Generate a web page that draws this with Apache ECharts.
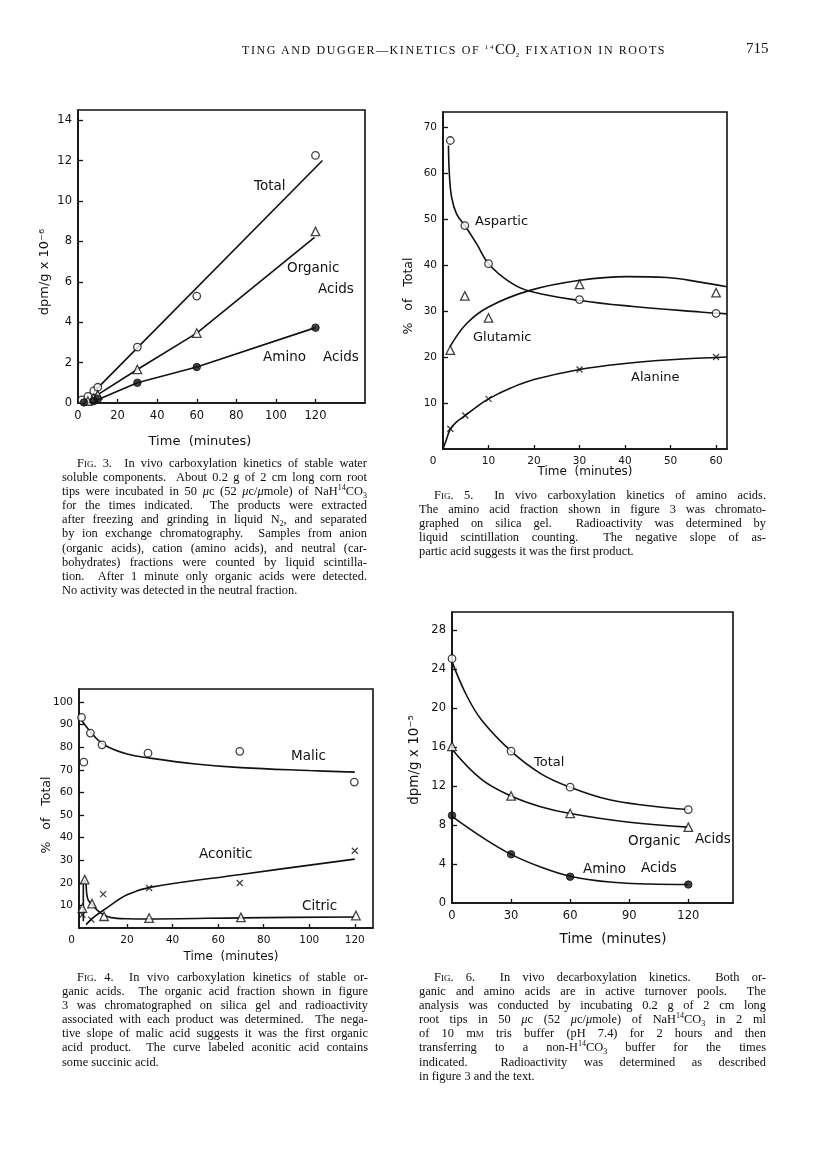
<!DOCTYPE html>
<html><head><meta charset="utf-8">
<script src="https://cdn.jsdelivr.net/npm/echarts@6/dist/echarts.min.js"></script>
<style>
html,body{margin:0;padding:0;background:#fff;}
#page{position:relative;width:816px;height:1152px;overflow:hidden;background:#fff;}
#chart{position:absolute;left:0;top:0;width:816px;height:1152px;}
.cap{position:absolute;font-family:'Liberation Serif','DejaVu Serif',serif;font-size:12.4px;color:#0d0d0d;line-height:14.1px;}
.cap div{white-space:nowrap;text-align:justify;text-align-last:justify;}
.cap div.last{text-align-last:left;}
.cap div.ind{padding-left:15px;}
.sc{font-variant:small-caps;}
.cap sup,.cap sub{font-size:8px;line-height:0;}
.hdr{position:absolute;font-family:'Liberation Serif','DejaVu Serif',serif;color:#0d0d0d;white-space:nowrap;}
</style></head>
<body><div id="page">
<div id="chart"></div>
<div class="hdr" style="left:242px;top:41px;font-size:12px;letter-spacing:1.6px;">TING AND DUGGER—KINETICS OF <sup style="font-size:7px">14</sup><span style="font-size:15px;letter-spacing:0">CO</span><sub style="font-size:7px">2</sub> FIXATION IN ROOTS</div>
<div class="hdr" style="left:746px;top:40px;font-size:15px;">715</div>

<div class="cap" style="left:62px;top:456px;width:305px;">
<div class="ind"><span class="sc">Fig.</span> 3.&nbsp; In vivo carboxylation kinetics of stable water</div>
<div>soluble components.&nbsp; About 0.2 g of 2 cm long corn root</div>
<div>tips were incubated in 50 <i>μ</i>c (52 <i>μ</i>c/<i>μ</i>mole) of NaH<sup>14</sup>CO<sub>3</sub></div>
<div>for the times indicated.&nbsp; The products were extracted</div>
<div>after freezing and grinding in liquid N<sub>2</sub>, and separated</div>
<div>by ion exchange chromatography.&nbsp; Samples from anion</div>
<div>(organic acids), cation (amino acids), and neutral (car-</div>
<div>bohydrates) fractions were counted by liquid scintilla-</div>
<div>tion.&nbsp; After 1 minute only organic acids were detected.</div>
<div class="last">No activity was detected in the neutral fraction.</div>
</div>

<div class="cap" style="left:419px;top:488px;width:347px;">
<div class="ind"><span class="sc">Fig.</span> 5.&nbsp; In vivo carboxylation kinetics of amino acids.</div>
<div>The amino acid fraction shown in figure 3 was chromato-</div>
<div>graphed on silica gel.&nbsp; Radioactivity was determined by</div>
<div>liquid scintillation counting.&nbsp; The negative slope of as-</div>
<div class="last">partic acid suggests it was the first product.</div>
</div>

<div class="cap" style="left:62px;top:970px;width:306px;">
<div class="ind"><span class="sc">Fig.</span> 4.&nbsp; In vivo carboxylation kinetics of stable or-</div>
<div>ganic acids.&nbsp; The organic acid fraction shown in figure</div>
<div>3 was chromatographed on silica gel and radioactivity</div>
<div>associated with each product was determined.&nbsp; The nega-</div>
<div>tive slope of malic acid suggests it was the first organic</div>
<div>acid product.&nbsp; The curve labeled aconitic acid contains</div>
<div class="last">some succinic acid.</div>
</div>

<div class="cap" style="left:419px;top:970px;width:347px;">
<div class="ind"><span class="sc">Fig.</span> 6.&nbsp; In vivo decarboxylation kinetics.&nbsp; Both or-</div>
<div>ganic and amino acids are in active turnover pools.&nbsp; The</div>
<div>analysis was conducted by incubating 0.2 g of 2 cm long</div>
<div>root tips in 50 <i>μ</i>c (52 <i>μ</i>c/<i>μ</i>mole) of NaH<sup>14</sup>CO<sub>3</sub> in 2 ml</div>
<div>of 10 m<span class="sc">m</span> tris buffer (pH 7.4) for 2 hours and then</div>
<div>transferring to a non-H<sup>14</sup>CO<sub>3</sub> buffer for the times</div>
<div>indicated.&nbsp; Radioactivity was determined as described</div>
<div class="last">in figure 3 and the text.</div>
</div>
</div>
<script>
// ---------- Fig. 3 data ----------
const fig3XLabels = [0, 20, 40, 60, 80, 100, 120];
const fig3XTicks = [20, 40, 60, 80, 100, 120];
const fig3YLabels = [0, 2, 4, 6, 8, 10, 12, 14];
const fig3YTicks = [2, 4, 6, 8, 10, 12, 14];
const fig3TotalPts = [[2, 0.15], [5, 0.33], [8, 0.6], [10, 0.78], [30, 2.77], [60, 5.29], [120, 12.25]];
const fig3OrganicPts = [[5, 0.1], [8, 0.25], [10, 0.4], [30, 1.66], [60, 3.46], [120, 8.49]];
const fig3AminoPts = [[3, 0.03], [8, 0.1], [10, 0.2], [30, 1.0], [60, 1.78], [120, 3.73]];
const fig3TotalLine = [[8, 0.55], [123.5, 12.0]];
const fig3OrganicLine = [[9, 0.35], [30, 1.66], [60, 3.46], [119.5, 8.2]];
const fig3AminoLine = [[9, 0.12], [30, 1.0], [60, 1.78], [120, 3.73]];

// ---------- Fig. 5 data ----------
const fig5XLabels = [0, 10, 20, 30, 40, 50, 60];
const fig5XTicks = [10, 20, 30, 40, 50, 60];
const fig5YLabels = [10, 20, 30, 40, 50, 60, 70];
const fig5AsparticPts = [[1.6, 67.1], [4.8, 48.6], [10, 40.3], [30, 32.5], [60, 29.5]];
const fig5GlutamicPts = [[1.6, 21.5], [4.8, 33.3], [10, 28.5], [30, 35.8], [60, 34]];
const fig5AlaninePts = [[1.6, 4.4], [4.9, 7.3], [10, 10.9], [30, 17.3], [60, 20]];
const fig5AsparticCurve = [[1.2, 66], [1.4, 59.8], [1.9, 54.7], [3, 51.1], [4.8, 48.6], [7.4, 44.6], [10, 40.3], [14.7, 36.3], [19.1, 34.3], [30.1, 32.3], [41.8, 31], [56.5, 29.8], [62.4, 29.4]];
const fig5GlutamicCurve = [[1.5, 22.2], [5.2, 27.3], [10, 30.9], [19.1, 34.5], [30.1, 36.7], [40.4, 37.5], [49.2, 37.3], [56.5, 36.3], [62.4, 35.3]];
const fig5AlanineCurve = [[0, 0], [0.8, 2.2], [1.6, 4.3], [3, 5.9], [4.9, 7.3], [7, 8.9], [10, 10.9], [15, 13.3], [20, 15.1], [30, 17.3], [40, 18.6], [50, 19.4], [62.4, 20]];

// ---------- Fig. 4 data ----------
const fig4XLabels = [0, 20, 40, 60, 80, 100, 120];
const fig4XTicks = [20, 40, 60, 80, 100, 120];
const fig4YLabels = [10, 20, 30, 40, 50, 60, 70, 80, 90, 100];
const fig4MalicPts = [[0, 93.2], [1, 73.4], [3.9, 86.3], [9, 81.1], [29.2, 77.4], [69.5, 78.2], [119.8, 64.6]];
const fig4AconiticPts = [[0.4, 5.9], [4.3, 3.7], [9.5, 15], [29.7, 17.7], [69.5, 19.9], [120, 34.2]];
const fig4CitricPts = [[0.4, 8.8], [1.4, 21.4], [4.6, 10.8], [9.9, 5.2], [29.7, 4.4], [70, 4.7], [120.5, 5.5]];
const fig4MalicCurve = [[0, 92], [3, 88], [5, 85.5], [10, 81], [20, 77], [30, 75.2], [50, 72.6], [70, 71], [100, 69.7], [120, 69]];
const fig4AconiticCurve = [[2, 1.5], [5, 4.5], [11, 8.8], [20, 14.7], [30, 18], [70, 23.7], [120, 30.5]];
const fig4CitricRise = [[0.8, 3], [0.8, 20], [1.5, 21.3]];
const fig4CitricCurve = [[1.5, 21.3], [2, 19], [2.3, 15], [3, 12.2], [5, 10], [7, 7.8], [9.5, 6], [13, 4.6], [20, 4.1], [30, 4.0], [70, 4.5], [120, 4.9]];

// ---------- Fig. 6 data ----------
const fig6XLabels = [0, 30, 60, 90, 120];
const fig6XTicks = [30, 60, 90, 120];
const fig6YLabels = [0, 4, 8, 12, 16, 20, 24, 28];
const fig6YTicks = [4, 8, 12, 16, 20, 24, 28];
const fig6TotalPts = [[0, 25.1], [30, 15.6], [60, 11.9], [120, 9.6]];
const fig6OrganicPts = [[0, 16.1], [30, 11], [60, 9.2], [120, 7.8]];
const fig6AminoPts = [[0, 9], [30, 5], [60, 2.7], [120, 1.9]];
const fig6TotalCurve = [[0, 24.8], [7, 21.5], [15, 18.8], [30, 15.6], [45, 13.3], [60, 11.9], [80, 10.6], [100, 10], [120, 9.6]];
const fig6OrganicCurve = [[0, 15.8], [15, 12.7], [30, 11], [45, 9.9], [60, 9.2], [90, 8.3], [120, 7.8]];
const fig6AminoCurve = [[0, 8.9], [15, 6.8], [30, 5], [45, 3.7], [60, 2.75], [80, 2.15], [100, 1.95], [120, 1.9]];

// ---------- styling helpers ----------
const BLACK = '#111';
const FONT = 'DejaVu Sans';

function xAxis(gi, min, max, ticks, labels, fs, zeroShift) {
  return {
    type: 'value', gridIndex: gi, min: min, max: max,
    axisLine: { show: true, onZero: false, lineStyle: { color: BLACK, width: 1.6 } },
    axisTick: { show: true, inside: true, length: 4, customValues: ticks, lineStyle: { color: BLACK, width: 1.3 } },
    axisLabel: {
      show: true, customValues: labels, color: BLACK, fontFamily: FONT, fontSize: fs, margin: 7,
      formatter: function (v) { return (zeroShift && v === 0) ? '{z|0}' : String(v); },
      rich: { z: { fontFamily: FONT, fontSize: fs, color: BLACK, padding: [0, zeroShift * 2, 0, 0] } }
    },
    splitLine: { show: false }
  };
}
function yAxis(gi, min, max, ticks, labels, fs) {
  return {
    type: 'value', gridIndex: gi, min: min, max: max,
    axisLine: { show: true, onZero: false, lineStyle: { color: BLACK, width: 1.6 } },
    axisTick: { show: true, inside: true, length: 5, customValues: ticks, lineStyle: { color: BLACK, width: 1.3 } },
    axisLabel: { show: true, customValues: labels, color: BLACK, fontFamily: FONT, fontSize: fs, margin: 6 },
    splitLine: { show: false }
  };
}
function curve(gi, data, smooth) {
  return { type: 'line', xAxisIndex: gi, yAxisIndex: gi, data: data, symbol: 'none', smooth: smooth,
    lineStyle: { color: BLACK, width: 1.6 }, silent: true, z: 2 };
}
const CROSS = 'path://M0,0L10,10M10,0L0,10';
function marks(gi, data, kind) {
  let sym = 'circle', size = 7.5, style = { color: '#fff', borderColor: BLACK, borderWidth: 1.3 };
  if (kind === 'filled') { style = { color: BLACK, borderColor: BLACK, borderWidth: 1 }; }
  if (kind === 'tri') { sym = 'triangle'; size = 8.5; }
  if (kind === 'cross') { sym = CROSS; size = 6; style = { color: 'rgba(0,0,0,0)', borderColor: BLACK, borderWidth: 1.3 }; }
  return { type: 'scatter', xAxisIndex: gi, yAxisIndex: gi, data: data, symbol: sym, symbolSize: size,
    itemStyle: style, silent: true, z: 5 };
}
function txt(x, y, s, fs, rot) {
  return { type: 'text', x: x, y: y, rotation: rot || 0, silent: true,
    style: { text: s, fontFamily: FONT, fontSize: fs, fill: BLACK, align: rot ? 'center' : 'left', verticalAlign: 'middle' } };
}
function ctxt(x, y, s, fs) {
  return { type: 'text', x: x, y: y, silent: true,
    style: { text: s, fontFamily: FONT, fontSize: fs, fill: BLACK, align: 'center', verticalAlign: 'middle' } };
}

const chart = echarts.init(document.getElementById('chart'), null, { renderer: 'canvas' });
const gridStyle = { show: true, borderColor: BLACK, borderWidth: 1.6, backgroundColor: 'transparent', containLabel: false };

chart.setOption({
  animation: false,
  backgroundColor: 'transparent',
  grid: [
    Object.assign({ left: 78, top: 110, width: 287, height: 293 }, gridStyle),   // Fig 3
    Object.assign({ left: 443, top: 112, width: 284, height: 337 }, gridStyle),  // Fig 5
    Object.assign({ left: 79, top: 689, width: 294, height: 239 }, gridStyle),   // Fig 4
    Object.assign({ left: 452, top: 612, width: 281, height: 291 }, gridStyle)   // Fig 6
  ],
  xAxis: [
    xAxis(0, 0, 145, fig3XTicks, fig3XLabels, 11.5, 0),
    xAxis(1, 0, 62.4, fig5XTicks, fig5XLabels, 10.5, 10),
    xAxis(2, -1.1, 128, fig4XTicks, fig4XLabels, 10.5, 10),
    xAxis(3, 0, 142.7, fig6XTicks, fig6XLabels, 11.5, 0)
  ],
  yAxis: [
    yAxis(0, 0, 14.5, fig3YTicks, fig3YLabels, 11.5),
    yAxis(1, 0, 73.3, fig5YLabels, fig5YLabels, 10.5),
    yAxis(2, 0, 105.8, fig4YLabels, fig4YLabels, 10.5),
    yAxis(3, 0, 29.9, fig6YTicks, fig6YLabels, 11.5)
  ],
  series: [
    curve(0, fig3TotalLine, false), curve(0, fig3OrganicLine, false), curve(0, fig3AminoLine, false),
    marks(0, fig3TotalPts, 'open'), marks(0, fig3OrganicPts, 'tri'), marks(0, fig3AminoPts, 'filled'),

    curve(1, fig5AsparticCurve, 0.4), curve(1, fig5GlutamicCurve, 0.4), curve(1, fig5AlanineCurve, 0.4),
    marks(1, fig5AsparticPts, 'open'), marks(1, fig5GlutamicPts, 'tri'), marks(1, fig5AlaninePts, 'cross'),

    curve(2, fig4MalicCurve, 0.4), curve(2, fig4AconiticCurve, 0.4), curve(2, fig4CitricRise, false), curve(2, fig4CitricCurve, 0.3),
    marks(2, fig4MalicPts, 'open'), marks(2, fig4AconiticPts, 'cross'), marks(2, fig4CitricPts, 'tri'),

    curve(3, fig6TotalCurve, 0.4), curve(3, fig6OrganicCurve, 0.4), curve(3, fig6AminoCurve, 0.4),
    marks(3, fig6TotalPts, 'open'), marks(3, fig6OrganicPts, 'tri'), marks(3, fig6AminoPts, 'filled')
  ],
  graphic: [
    // Fig 3 texts
    txt(254, 186, 'Total', 13.5), txt(287, 268, 'Organic', 13.5), txt(318, 289, 'Acids', 13.5),
    txt(263, 357, 'Amino', 13.5), txt(323, 357, 'Acids', 13.5),
    ctxt(200, 442, 'Time  (minutes)', 13),
    txt(45, 272, 'dpm/g x 10⁻⁶', 13, Math.PI / 2),
    // Fig 5 texts
    txt(475, 222, 'Aspartic', 13), txt(473, 338, 'Glutamic', 13), txt(631, 378, 'Alanine', 13),
    ctxt(585, 472, 'Time  (minutes)', 12),
    txt(409, 296, '%   of   Total', 12.5, Math.PI / 2),
    // Fig 4 texts
    txt(291, 756, 'Malic', 13.5), txt(199, 854, 'Aconitic', 13.5), txt(302, 906, 'Citric', 13.5),
    ctxt(231, 957, 'Time  (minutes)', 12),
    txt(47, 815, '%   of   Total', 12.5, Math.PI / 2),
    // Fig 6 texts
    txt(534, 763, 'Total', 13), txt(628, 841, 'Organic', 13.5), txt(695, 839, 'Acids', 13.5),
    txt(583, 869, 'Amino', 13.5), txt(641, 868, 'Acids', 13.5),
    ctxt(613, 939, 'Time  (minutes)', 13.5),
    txt(414, 760, 'dpm/g x 10⁻⁵', 13.5, Math.PI / 2)
  ]
});
</script>
</body></html>
